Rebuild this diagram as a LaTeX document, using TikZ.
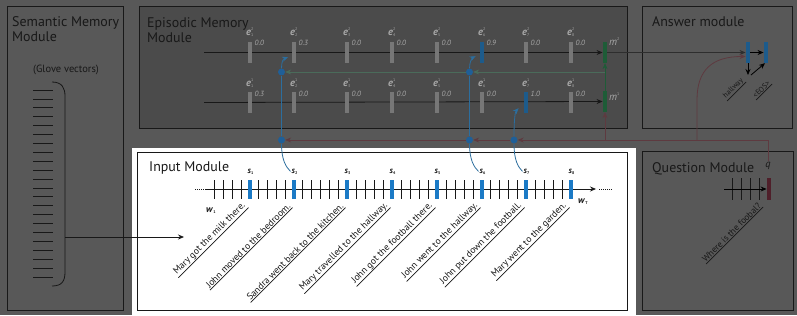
\documentclass[tikz,border=0pt]{standalone}
\usepackage{fontspec}
\setmainfont{PT Sans}
\usetikzlibrary{arrows.meta,calc}
\definecolor{bgc}{HTML}{585858}
\definecolor{epc}{HTML}{4B4B4B}
\definecolor{dk}{HTML}{181818}
\definecolor{gbarc}{HTML}{777777}
\definecolor{lab}{HTML}{A8A8A8}
\definecolor{dblue}{HTML}{1D5B8B}
\definecolor{dotblue}{HTML}{1F5F98}
\definecolor{lblue}{HTML}{1B7AC6}
\definecolor{cblue}{HTML}{2C6E9E}
\definecolor{dgreen}{HTML}{1E5C37}
\definecolor{glink}{HTML}{4A6B5A}
\definecolor{dred}{HTML}{5E3A40}
\definecolor{qred}{HTML}{4F1F2A}
\definecolor{mline}{HTML}{2E2E2E}
\newcommand{\tinyfs}{\fontsize{4}{4}\selectfont}
\newcommand{\elab}[2]{\textbf{\textit{e}}\makebox[0pt][l]{\raisebox{4.5pt}{\tinyfs #1}}\raisebox{-1.5pt}{\tinyfs #2}}
\newcommand{\mlab}[1]{\textit{m}\raisebox{4.5pt}{\tinyfs #1}}
\newcommand{\slab}[1]{\textbf{\textit{s}}\raisebox{-1.2pt}{\tinyfs\bfseries #1}}
\newcommand{\wlab}[1]{\textbf{\textit{w}}\raisebox{-1.5pt}{\tinyfs\bfseries #1}}
\tikzset{
  modbox/.style={draw=dk, line width=0.9pt},
  ttl/.style={anchor=base west, inner sep=0pt, text=dk, font=\fontsize{14}{16}\selectfont},
  barbox/.style={minimum width=3.5pt, minimum height=21pt, inner sep=0pt, draw=none},
  valtxt/.style={anchor=west, inner sep=0pt, text=lab, font=\fontsize{7.5}{8}\selectfont\itshape},
  etxt/.style={anchor=base west, inner sep=0pt, text=lab, font=\fontsize{10.5}{10.5}\selectfont},
  arr/.style={-{Stealth[length=6pt,width=5pt]}, line width=0.8pt},
  dotn/.style={circle, fill=dotblue, minimum size=7pt, inner sep=0pt},
  sent/.style={rotate=45, anchor=south east, inner sep=0.8pt, text=dk, font=\fontsize{9.5}{10}\selectfont},
  ticks/.style={line width=0.8pt, draw=dk},
}
\begin{document}
\begin{tikzpicture}[x=1bp,y=-1bp]
\fill[bgc] (0,0) rectangle (797,315);
\useasboundingbox (0,0) rectangle (797,315);

% ---------- module boxes
\draw[modbox] (7,6) rectangle (123,310);
\draw[modbox, fill=epc] (139,6) rectangle (627,128);
\draw[modbox] (642,6) rectangle (792,128);
\draw[modbox] (642,151) rectangle (793,310);
\fill[white] (132,148) rectangle (636,315);
\draw[modbox] (137,152) rectangle (627,310);

% ---------- titles
\node[ttl] (tSem1) at (12,26.5) {Semantic Memory};
\node[ttl] (tSem2) at (12,41.5) {Module};
\node[ttl] (tEp1) at (147,27.5) {Episodic Memory};
\node[ttl] (tEp2) at (147,42.5) {Module};
\node[ttl] (tAns) at (652,26) {Answer module};
\node[ttl] (tIn) at (149,171.5) {Input Module};
\node[ttl] (tQ) at (652,172.5) {Question Module};

% ---------- semantic memory
\node[inner sep=0pt, text=dk, font=\fontsize{10.5}{11}\selectfont] (glove) at (66,70) {(Glove vectors)};
\foreach \k in {0,...,21} \draw[dk, line width=0.7pt] (33,90+8.9*\k) -- (53,90+8.9*\k);
\draw[dk, line width=0.8pt] (52,82) .. controls (62,82) and (65,88) .. (65,96) -- (65,272) .. controls (65,281) and (62,286) .. (52,286);
\coordinate (br) at (65,237);
\coordinate (inA) at (184,237);
\draw[arr, dk] (br) -- (inA);

% ---------- episodic memory
\node[barbox, fill=dgreen, minimum width=4.5pt] (m2) at (605,52.5) {};
\node[barbox, fill=dgreen, minimum width=4.5pt] (m1) at (605,101.5) {};
\node[etxt] (m2l) at (609,45) {\mlab{2}};
\node[etxt] (m1l) at (609,100) {\mlab{1}};
\coordinate (tls) at (204,52.5);
\coordinate (bls) at (204,102.5);
\draw[arr, dk] (tls) -- (m2.west);
\draw[arr, dk] (bls) -- (m1.west);
\foreach \x/\vt/\vb/\ct/\cb/\wt/\wb [count=\i] in {
 250/0.0/0.3/gbarc/gbarc/3.5/3.5, 294/0.3/0.0/gbarc/gbarc/3.5/3.5,
 347/0.0/0.0/gbarc/gbarc/3.5/3.5, 392/0.0/0.0/gbarc/gbarc/3.5/3.5,
 437/0.0/0.0/gbarc/gbarc/3.5/3.5, 482/0.9/0.0/dblue/gbarc/4.5/3.5,
 526/0.0/1.0/gbarc/dblue/3.5/4.5, 571/0.0/0.0/gbarc/gbarc/3.5/3.5} {
  \node[barbox, fill=\ct, minimum width=\wt] (eT\i) at (\x,52.5) {};
  \node[valtxt] (vT\i) at (\x+4.5,43) {\vt};
  \node[etxt] (lT\i) at (\x-4,35) {\elab{2}{\i}};
  \node[barbox, fill=\cb, minimum width=\wb] (eB\i) at (\x,102.5) {};
  \node[valtxt] (vB\i) at (\x+4.5,94) {\vb};
  \node[etxt] (lB\i) at (\x-4,86) {\elab{1}{\i}};
}

% dots
\node[dotn] (d2t) at (281.5,72) {};
\node[dotn] (d6t) at (469.5,72) {};
\node[dotn] (d2b) at (281.5,140) {};
\node[dotn] (d6b) at (469.5,140) {};
\node[dotn] (d7b) at (514,140) {};

% green memory update links
\coordinate (gj) at (605,72);
\draw[arr, dgreen] (m1.north) -- (m2.south);
\draw[arr, glink] (gj) -- (d6t);
\draw[arr, glink] (d6t) -- (d2t);

% blue attention links
\draw[cblue, line width=0.8pt] (d2b) -- (d2t);
\draw[cblue, line width=0.8pt] (d6b) -- (d6t);
\draw[arr, cblue] (d2t) .. controls (281.5,62) and (283,59) .. ([xshift=-4pt,yshift=6pt]eT2.south west);
\draw[arr, cblue] (d6t) .. controls (469.5,62) and (472,58) .. ([xshift=-4pt,yshift=7pt]eT6.south west);
\draw[arr, cblue] (d7b) .. controls (514,122) and (515,112) .. ([xshift=-5pt,yshift=5pt]eB7.south west);

% ---------- answer module
\node[barbox, fill=dblue, minimum width=4.5pt] (a1) at (748,52.5) {};
\node[barbox, fill=dblue, minimum width=4.5pt] (a2) at (766,52.5) {};
\draw[arr, mline] (m2.east) -- (a1.west);
\draw[arr, black] (a1.east) -- (a2.west);
\coordinate (ad) at (748,75);
\draw[arr, black] (a1.south) -- (ad);
\draw[arr, black] ([xshift=3pt]ad) -- ([xshift=-1pt]a2.south);
\node[sent, font=\fontsize{7.5}{8}\selectfont] (ans1) at (746,82) {hallway};
\draw[dk, line width=0.7pt] (ans1.south west) -- (ans1.south east);
\node[sent, font=\fontsize{7.5}{8}\selectfont] (ans2) at (772,84) {<EOS>};
\draw[dk, line width=0.7pt] (ans2.south west) -- (ans2.south east);

% ---------- question module
\node[inner sep=0.5pt, anchor=base, text=dk, font=\fontsize{10.5}{10.5}\selectfont\itshape] (q) at (768,167) {q};
\foreach \x in {732,741,750,759} \draw[ticks] (\x,178) -- (\x,200);
\node[barbox, fill=qred, minimum width=4.5pt, minimum height=22pt] (qb) at (769,189) {};
\coordinate (qs) at (724,189);
\draw[arr, black] (qs) -- (qb.west);
\node[sent, font=\fontsize{9}{10}\selectfont] (qt) at (763,207) {Where is the foobal?};
\draw[dk, line width=0.7pt] (qt.south west) -- (qt.south east);

% question links (red)
\coordinate (rj) at (605,140);
\coordinate (ra) at (697,140);
\draw[arr, dred] (q.north) |- (d7b);
\draw[arr, dred] (d7b) -- (d6b);
\draw[arr, dred] (d6b) -- (d2b);
\draw[arr, dred] (rj) -- (m1.south);
\draw[arr, dred] (ra) -- (697,100) .. controls (697,70) and (712,56.5) .. ([yshift=-4pt]a1.west);

% ---------- input module
\coordinate (ws) at (205,189);
\coordinate (we) at (596,189);
\draw[dk, line width=0.8pt, dash pattern=on 0.8pt off 1.2pt] (195,189) -- (ws);
\draw[dk, line width=0.8pt, dash pattern=on 0.8pt off 1.2pt] (599,189) -- (612,189);
\draw[arr, dk] (ws) -- (we);
\foreach \a/\b/\n in {205/250/4, 250/294/4, 294/347/5, 347/392/4, 392/437/4, 437/482/4, 482/526/4, 526/571/4} {
  \foreach \k in {1,...,\n} \draw[ticks] ({\a+\k*(\b-\a)/(\n+1)},180) -- ({\a+\k*(\b-\a)/(\n+1)},199);
}
\foreach \x/\t [count=\i] in {250/Mary got the milk there., 294/John moved to the bedroom.,
  347/Sandra went back to the kitchen., 392/Mary travelled to the hallway.,
  437/John got the football there., 482/John went to the hallway.,
  526/John put down the football., 571/Mary went to the garden.} {
  \node[barbox, fill=lblue, minimum width=4.5pt, minimum height=20pt] (s\i) at (\x,189.5) {};
  \node[anchor=base west, inner sep=0pt, text=dk, font=\fontsize{8.5}{8.5}\selectfont] (sl\i) at (\x-2.5,173) {\slab{\i}};
  \node[sent] (t\i) at (\x-1.5,207.5) {\t};
  \draw[dk, line width=0.7pt] (t\i.south west) -- (t\i.south east);
}
\node[anchor=base west, inner sep=0pt, text=dk, font=\fontsize{9.5}{9.5}\selectfont] (w1) at (206,212) {\wlab{1}};
\node[anchor=base west, inner sep=0pt, text=dk, font=\fontsize{9.5}{9.5}\selectfont] (wT) at (578,203) {\wlab{T}};

% links from input sentences up to the attention dots
\draw[cblue, line width=0.8pt] (d2b) .. controls (281.5,160) and (286,167) .. ([xshift=-1pt]sl2.west);
\draw[cblue, line width=0.8pt] (d6b) .. controls (469.5,160) and (474,167) .. ([xshift=-1pt]sl6.west);
\draw[cblue, line width=0.8pt] (d7b) .. controls (514,160) and (518,167) .. ([xshift=-1pt]sl7.west);
\end{tikzpicture}
\end{document}
